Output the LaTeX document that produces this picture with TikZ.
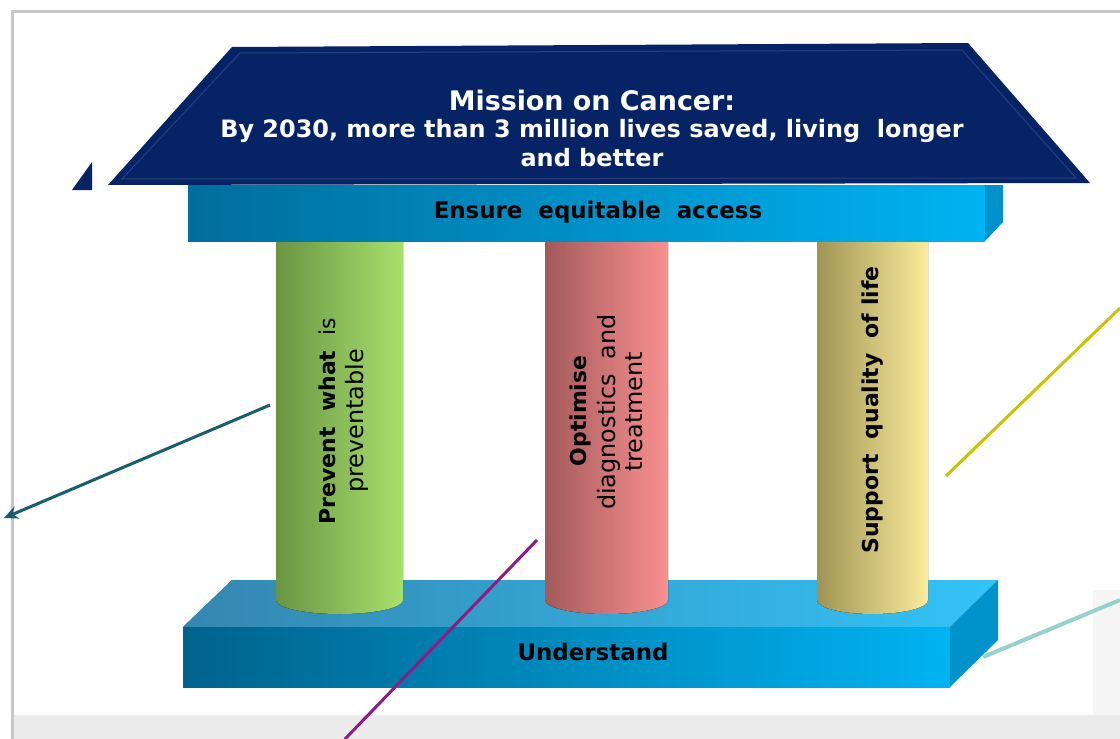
\documentclass[tikz,border=0pt]{standalone}
\usepackage{fontspec}
\setmainfont{DejaVu Sans}
\usepackage{tikz}
\usetikzlibrary{arrows.meta}

\definecolor{roofblue}{HTML}{062366}
\definecolor{roofline}{HTML}{23407F}
\definecolor{barleft}{HTML}{006E9C}
\definecolor{barright}{HTML}{00B3F2}
\definecolor{barside}{HTML}{0092CA}
\definecolor{topleft}{HTML}{3587B0}
\definecolor{topright}{HTML}{33C3F7}
\definecolor{greenleft}{HTML}{6A9543}
\definecolor{greenright}{HTML}{A8E06C}
\definecolor{pinkleft}{HTML}{A35A5A}
\definecolor{pinkright}{HTML}{FA9090}
\definecolor{yellowleft}{HTML}{A09455}
\definecolor{yellowright}{HTML}{FAEC9A}
\definecolor{tealarrow}{HTML}{185E6E}
\definecolor{purpleline}{HTML}{8E1C86}
\definecolor{oliveline}{HTML}{CCC300}
\definecolor{mintline}{HTML}{96D2CC}

\tikzset{
  pillartext/.style={rotate=90, align=center, font=\fontsize{24}{27}\selectfont, text=black},
  pillarbold/.style={rotate=90, font=\fontsize{22}{29}\selectfont\bfseries, text=black},
  bartext/.style={font=\fontsize{23}{27}\selectfont\bfseries, text=black},
  rooftext/.style={text=white, font=\fontsize{24}{27}\selectfont\bfseries},
  link/.style={line width=3bp}
}

\begin{document}
\begin{tikzpicture}[x=1bp,y=-1bp]
                \tikzstyle{every node}+=[inner sep=0pt]
                \useasboundingbox (0,0) rectangle (1120,739);
                \fill [white] (0,0) rectangle (1120,739);
                \fill [black!8] (14,715) rectangle (1120,739);
                \draw [black!22, line width=3bp] (12,739) -- (12,12) -- (1120,12);
                \fill [black!4] (1093,590) rectangle (1120,715);
                \fill [topleft, left color=topleft, right color=topright] (183,627) -- (232,580) -- (998,580) -- (950,627) -- cycle;
                \fill [left color=barleft!90!black, right color=barright] (183,627) rectangle (950,687);
                \fill [barside] (950,627) -- (998,580) -- (998,640) -- (950,687) -- cycle;
                \node [bartext] (understand) at (593,652) {Understand};
                \fill [left color=greenleft, right color=greenright] (276,230) -- (276,600) arc [start angle=180, end angle=0, x radius=63.5, y radius=14] -- (403,230) -- cycle;
                \fill [left color=pinkleft, right color=pinkright] (545,230) -- (545,600) arc [start angle=180, end angle=0, x radius=61.5, y radius=14] -- (668,230) -- cycle;
                \fill [left color=yellowleft, right color=yellowright] (817,230) -- (817,600) arc [start angle=180, end angle=0, x radius=55.5, y radius=14] -- (928,230) -- cycle;
                \node [pillarbold] (prevent) at (327,421) {Prevent\ \ what\ \ \mdseries is};
                \node [pillartext] (preventable) at (357,421) {preventable};
                \node [pillarbold] (optimise) at (580,411) {Optimise};
                \node [pillartext] (diagnostics) at (620,412) {diagnostics\ \ and\\treatment};
                \node [pillarbold] (support) at (873,410) {Support\ \ quality\ \ of\ life};
                \fill [left color=barleft, right color=barright] (188,185) rectangle (985,241);
                \fill [barside] (985,185) -- (1003,185) -- (1003,222) -- (985,241) -- cycle;
                \node [bartext] (access) at (598,212) {Ensure\ \ equitable\ \ access};
                \fill [roofblue] (72,190) -- (92,162) -- (92,190) -- cycle;
                \fill [roofblue] (232,47) -- (968,43) -- (1090,183) -- (108,185) -- cycle;
                \draw [roofline, line width=1bp] (240,53) -- (962,50) -- (1076,178) -- (122,179) -- cycle;
                \node [rooftext, font=\fontsize{27}{30}\selectfont\bfseries] (mission) at (592,100) {Mission on Cancer:};
                \node [rooftext] (goal) at (592,131) {By 2030, more than 3 million lives\ saved, living\ \ longer};
                \node [rooftext] (better) at (592,158) {and better};
                \coordinate (preventtip) at (270,405);
                \coordinate (preventend) at (4,518);
                \coordinate (optimisetip) at (537,540);
                \coordinate (optimiseend) at (345,739);
                \coordinate (supporttip) at (946,476);
                \coordinate (supportend) at (1120,308);
                \coordinate (understandtip) at (983,657);
                \coordinate (understandend) at (1120,600);
                \draw [tealarrow, link, -{Stealth[length=14bp, width=13bp]}] (preventtip) -- (preventend);
                \draw [purpleline, link] (optimisetip) -- (optimiseend);
                \draw [oliveline, link] (supporttip) -- (supportend);
                \draw [mintline, link, line width=4bp] (understandtip) -- (understandend);
\end{tikzpicture}
\end{document}
